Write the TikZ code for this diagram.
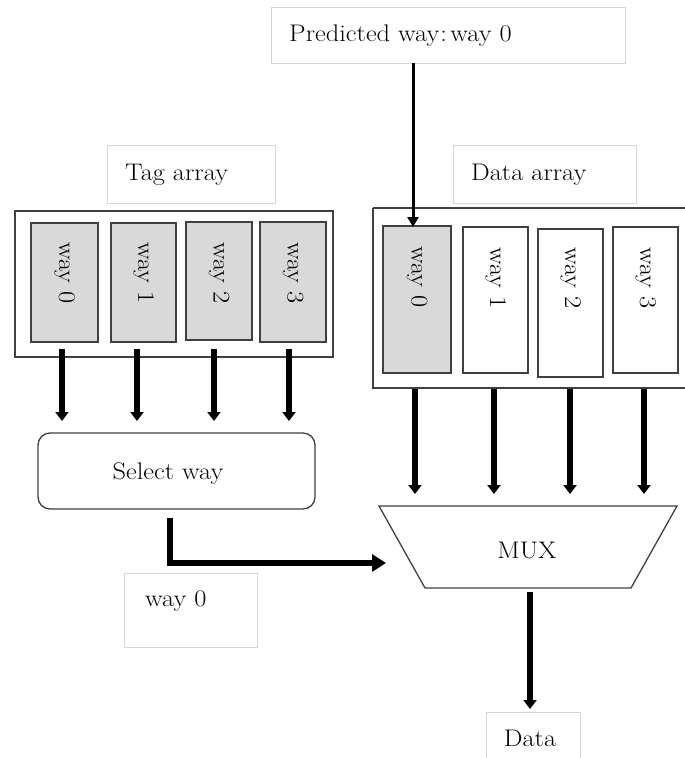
\documentclass[tikz,border=0pt]{standalone}
\usetikzlibrary{arrows.meta}
\usepackage{graphicx}
\definecolor{wayfill}{HTML}{D9D9D9}
\definecolor{edgegray}{HTML}{404040}
\definecolor{lblgray}{HTML}{D6D6D6}
\newcommand\wt[1]{\scalebox{1.1}[1]{#1}}
\begin{document}
\begin{tikzpicture}[x=1pt,y=-1pt,
  txt/.style={font=\fontsize{24}{28}\selectfont},
  lbl/.style={draw=lblgray,line width=0.8pt,fill=white,inner sep=0pt},
  outer/.style={draw=edgegray,line width=1.3pt},
  waybox/.style={draw=edgegray,line width=1.3pt},
  fat/.style={line width=5.5pt,-{Triangle[width=13pt,length=9pt]}},
  thin/.style={line width=3pt,-{Triangle[width=11pt,length=10pt]}}
]
\useasboundingbox (0,0) rectangle (685,758);

% Predicted way label
\draw[lbl] (271,7) rectangle (625,63);
\node[txt,anchor=base west,inner sep=0pt] (pred) at (289,41) {\wt{Predicted way{\kern1pt}:{\kern3pt}way 0}};
\coordinate (predout) at (413,63);

% Tag array
\draw[lbl] (107,145) rectangle (275,203);
\node[txt,anchor=base west,inner sep=0pt] (taglbl) at (125,180) {\wt{Tag array}};
\draw[outer] (15,211) rectangle (333,357);
\foreach \i/\xa/\xb/\ya/\yb in {0/31/98/223/342,1/111/176/223/342,2/186/252/222/340,3/260/326/222/342}{
  \draw[waybox,fill=wayfill] (\xa,\ya) rectangle (\xb,\yb);
  \node[txt,rotate=-90,anchor=center] (tw\i) at ({(\xa+\xb)/2},273) {\wt{way \i}};
}

% Data array
\draw[lbl] (453,145) rectangle (636,203);
\node[txt,anchor=base west,inner sep=0pt] (datalbl) at (471,180) {\wt{Data array}};
\draw[outer] (373,208) -- (690,208) (373,208) -- (373,388) -- (690,388);
\draw[waybox,fill=wayfill] (383,226) rectangle (451,373);
\node[txt,rotate=-90] (dw0) at (417,277) {\wt{way 0}};
\foreach \i/\xa/\xb/\ya/\yb in {1/463/528/227/373,2/538/603/229/377,3/613/678/227/373}{
  \draw[waybox,fill=white] (\xa,\ya) rectangle (\xb,\yb);
  \node[txt,rotate=-90,anchor=center] (dw\i) at ({(\xa+\xb)/2},278) {\wt{way \i}};
}
\coordinate (dw0top) at (413,227);
\draw[thin] (predout) -- (dw0top);

% Select way
\node[draw=edgegray,line width=1.3pt,rounded corners=12pt,minimum width=277pt,minimum height=76pt] (sel) at (176.5,471) {};
\node[txt] (seltxt) at (168,474) {\wt{Select way}};
\foreach \x in {62,137,214,289}{
  \draw[fat] (\x,349) -- (\x,421);
}

% MUX
\draw[draw=edgegray,line width=1.3pt] (379,506) -- (677,506) -- (631,588) -- (425,588) -- cycle;
\node[txt] (mux) at (527,550) {\wt{MUX}};
\coordinate (muxin) at (386,563);
\foreach \x in {415,494,570,644}{
  \draw[fat] (\x,389) -- (\x,494);
}

% way 0 label
\draw[lbl] (124,573) rectangle (257,647);
\node[txt,anchor=base west,inner sep=0pt] (w0) at (145,606) {\wt{way 0}};

% elbow arrow
\coordinate (selout) at (170,518);
\draw[line width=5.5pt,-{Triangle[width=17pt,length=14pt]}] (selout) -- (170,563) -- (muxin);

% Data
\draw[lbl] (486,712) rectangle (580,770);
\node[txt,anchor=base,inner sep=0pt] (data) at (530,746) {\wt{Data}};
\draw[fat] (530,592) -- (530,709);
\end{tikzpicture}
\end{document}
